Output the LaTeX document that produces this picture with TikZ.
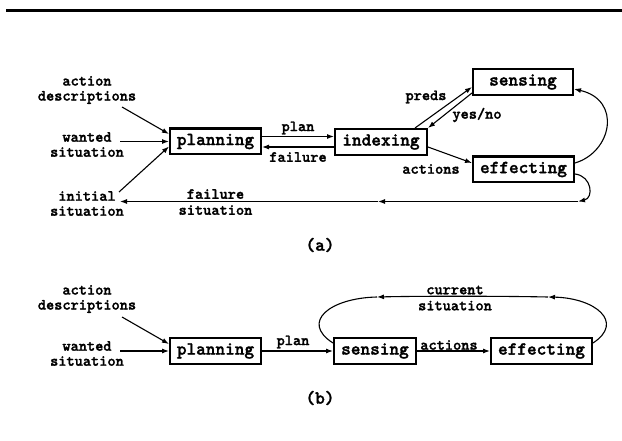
\documentclass[tikz,border=0pt]{standalone}
\usepackage{fontspec}
\newfontfamily\courb{lmmonolt10-bold.otf}[FakeBold=1.6]
\usetikzlibrary{arrows.meta}
\begin{document}
\begin{tikzpicture}[x=1pt,y=-1pt,
  box/.style={draw, line width=2.4pt, inner sep=0pt, minimum height=25.6pt,
    font=\courb\fontsize{18.4}{18.4}\selectfont},
  lbl/.style={font=\courb\fontsize{15.6}{15}\selectfont, align=center, inner sep=0pt},
  capt/.style={font=\courb\fontsize{18.4}{18.4}\selectfont, inner sep=0pt},
  arr/.style={line width=1.1pt, -{Latex[length=7pt,width=5pt]}},
  plain/.style={line width=1.1pt}]
\useasboundingbox (0,0) rectangle (622,441);
\draw[line width=3pt] (6,10.5) -- (622,10.5);

% ---------- (a) ----------
\node[box, minimum width=90.6pt] (plA) at (215.5,141.5) {planning};
\node[box, minimum width=91.6pt] (idx) at (381,142) {indexing};
\node[box, minimum width=99.6pt] (senA) at (523,82) {sensing};
\node[box, minimum width=100.6pt] (effA) at (523.5,169.5) {effecting};

\node[lbl] (descA) at (87,90) {action\\descriptions};
\node[lbl] (wantA) at (87,144.5) {wanted\\situation};
\node[lbl] (initA) at (87,203.5) {initial\\situation};
\node[lbl] (planlA) at (298,128) {plan};
\node[lbl] (faillA) at (298,157) {failure};
\node[lbl] (predsl) at (426,97) {preds};
\node[lbl] (yesnol) at (477,115) {yes/no};
\node[lbl] (actlA) at (431,169) {actions};
\node[lbl] (fsitl) at (215.5,202) {failure\\[1pt]situation};

\coordinate (dA) at (122,107);
\coordinate (wA) at (120,141.5);
\coordinate (iA) at (119,192);
\draw[arr] (dA) -- ([yshift=7.5pt]plA.west);
\draw[arr] (wA) -- (plA.west);
\draw[arr] (iA) -- ([yshift=-5pt]plA.west);

\draw[arr] ([yshift=5pt]plA.east) -- ([yshift=5pt]plA.east -| idx.west);
\draw[arr] ([yshift=-5pt]idx.west) -- ([yshift=-5pt]idx.west -| plA.east);
\draw[arr] ([xshift=-13pt]idx.north east) -- ([yshift=-5pt]senA.west);
\draw[arr] ([yshift=-11pt]senA.west) -- (idx.north east);
\draw[arr] ([yshift=-5pt]idx.east) -- ([yshift=6.5pt]effA.west);
\draw[arr] ([yshift=6.5pt]effA.east) .. controls (612,152) and (622,100) .. ([yshift=-7pt]senA.east);

\coordinate (fs) at (578,201.5);
\coordinate (fm) at (378,201.5);
\coordinate (fe) at (120,201.5);
\draw[arr] ([yshift=-4.5pt]effA.east) .. controls (592,176) and (594,198) .. (fs);
\draw[arr] (fs) -- (fm);
\draw[arr] (fm) -- (fe);

\node[capt] (ca) at (320,245) {(a)};

% ---------- (b) ----------
\node[box, minimum width=90.6pt] (plB) at (215.5,351) {planning};
\node[box, minimum width=81.6pt] (senB) at (375,351) {sensing};
\node[box, minimum width=100.6pt] (effB) at (541.5,351) {effecting};

\node[lbl] (descB) at (87,299) {action\\descriptions};
\node[lbl] (wantB) at (87,353.5) {wanted\\situation};
\node[lbl] (planlB) at (293,342) {plan};
\node[lbl] (actlB) at (449,345) {actions};
\node[lbl] (cursit) at (455,298) {current\\[1pt]situation};

\coordinate (dB) at (122,317);
\coordinate (wB) at (120,351);
\draw[arr] (dB) -- ([yshift=7pt]plB.west);
\draw[arr] (wB) -- (plB.west);
\draw[arr] (plB) -- (senB);
\draw[arr] (senB) -- (effB);

\coordinate (c1) at (548,297);
\coordinate (c2) at (377,297);
\draw[arr] ([yshift=8pt]effB.east) .. controls (625,322) and (595,298) .. (c1);
\draw[arr] (c1) .. controls (500,296) and (420,296) .. (c2);
\draw[plain] (c2) .. controls (330,298) and (300,322) .. ([yshift=8pt]senB.west);

\node[capt] (cb) at (320,398) {(b)};
\end{tikzpicture}
\end{document}
